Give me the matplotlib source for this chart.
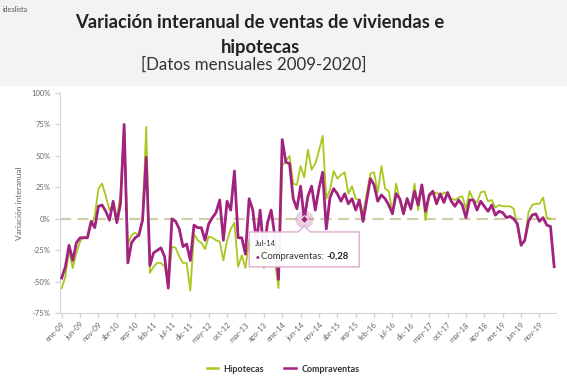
import numpy as np
import matplotlib.pyplot as plt
from matplotlib.patches import Rectangle, Polygon
from matplotlib.transforms import IdentityTransform
from matplotlib.lines import Line2D

plt.rcParams['font.family'] = ['Lato', 'DejaVu Sans']
plt.rcParams['lines.scale_dashes'] = False

# categorias: meses ene-09 .. mar-20
meses = ['ene', 'feb', 'mar', 'abr', 'may', 'jun', 'jul', 'ago', 'sep', 'oct', 'nov', 'dic']
months = [m + '-%02d' % y for y in range(9, 21) for m in meses][:135]

# variacion interanual en %
compraventas = [
    -47, -38, -21, -33, -19, -15, -15, -15, -2, -7, 10, 11, 6, -1, 14, -3, 12, 75, -35, -19,
    -15, -13, -1, 49, -37, -27, -25, -23, -30, -55, 0, -2, -8, -22, -20, -33, -5, -7, -7, -17,
    -4, 1, 5, 15, -17, 14, 7, 38, -15, -15, -28, 16, 7, -19, 7, -27, -3, 7, -14, -48,
    63, 45, 44, 16, 8, 26, -0.28, 18, 26, 7, 24, 37, -8, 17, 24, 20, 14, 20, 12, 16,
    7, 15, -2, 15, 32, 27, 14, 19, 16, 11, 4, 20, 16, 4, 16, 8, 22, 11, 27, 6,
    19, 22, 12, 20, 13, 21, 14, 10, 15, 11, 1, 15, 15, 7, 14, 10, 6, 11, 3, 6,
    5, 1, 2, 0, -4, -21, -17, -2, 3, 4, -2, 1, -5, -6, -38,
]
hipotecas = [
    -55, -46, -25, -39, -27, -18, -14, -15, -5, 2, 24, 28, 18, 7, 11, 0, 20, 70, -20, -13,
    -11, -13, -1, 73, -43, -38, -35, -35, -38, -52, -22, -23, -30, -35, -35, -57, -12, -17, -19, -24,
    -14, -15, -17, -18, -33, -17, -8, -3, -38, -29, -39, -17, -32, -37, -22, -39, -26, -21, -33, -55,
    42, 46, 50, 28, 27, 42, 33, 55, 39, 44, 54, 66, 16, 23, 38, 32, 35, 37, 20, 26,
    16, 15, 4, 20, 36, 37, 21, 42, 24, 22, 5, 28, 15, 7, 17, 7, 28, 7, 27, -1,
    18, 20, 21, 18, 21, 20, 16, 15, 17, 18, 8, 22, 15, 13, 21, 22, 14, 15, 9, 11,
    10, 10, 10, 8, -6, -21, -17, 5, 11, 12, 12, 17, 1, 0, np.nan,
]

tick_labels = ['ene-09', 'jun-09', 'nov-09', 'abr-10', 'sep-10', 'feb-11', 'jul-11', 'dic-11',
               'may-12', 'oct-12', 'mar-13', 'ago-13', 'ene-14', 'jun-14', 'nov-14', 'abr-15',
               'sep-15', 'feb-16', 'jul-16', 'dic-16', 'may-17', 'oct-17', 'mar-18', 'ago-18',
               'ene-19', 'jun-19', 'nov-19']
y_ticks = [-75, -50, -25, 0, 25, 50, 75, 100]
tooltip_month = 'jul-14'

verde = '#a9c81e'
morado = '#a2227f'
gris = '#666666'

W, H = 567, 385
fig = plt.figure(figsize=(W / 100, H / 100), dpi=100)
fx = lambda px: px / W
fy = lambda py: 1 - py / H

# cabecera
fig.add_artist(Rectangle((0, fy(85)), 1, 85 / H, transform=fig.transFigure,
                         color='#f3f3f1', zorder=0))
fig.text(fx(3), fy(12), 'idealista', fontsize=5, color='#555555')
fig.text(fx(260), fy(28), 'Variación interanual de ventas de viviendas e', ha='center',
         va='baseline', fontsize=13.2, fontweight='bold', color='#222222')
fig.text(fx(260), fy(53), 'hipotecas', ha='center', va='baseline', fontsize=13.2,
         fontweight='bold', color='#222222')
fig.text(fx(254), fy(70), '[Datos mensuales 2009-2020]', ha='center', va='baseline',
         fontsize=12.2, color='#333333')

ax = fig.add_axes([fx(60), fy(313.3), (556 - 60) / W, (313.3 - 93) / H])
x = np.arange(len(months))
ax.axhline(0, color='#cfcea8', lw=1.6, dashes=(8, 4.5), zorder=1)
ax.plot(x, hipotecas, color=verde, lw=1.3, zorder=2)
ax.plot(x, compraventas, color=morado, lw=2.0, zorder=3)

ax.set_xlim(-0.46, 134.5)
ax.set_ylim(-75, 100)
ax.set_yticks(y_ticks)
ax.set_yticklabels(['%d%%' % v for v in y_ticks])
ax.set_xticks([months.index(t) for t in tick_labels])
ax.set_xticklabels(tick_labels, rotation=45, ha='right', rotation_mode='anchor')
ax.tick_params(axis='both', labelsize=5.5, labelcolor=gris, color='#d6d6d6', length=3.5, width=1)
ax.tick_params(axis='x', pad=2)
for s in ['top', 'right']:
    ax.spines[s].set_visible(False)
for s in ['left', 'bottom']:
    ax.spines[s].set_color('#d6d6d6')
ax.set_ylabel('Variación interanual', fontsize=6, color=gris)
ax.yaxis.set_label_coords(-0.074, 0.5)

# tooltip
it = months.index(tooltip_month)
vt = compraventas[it]
ax.plot([it], [vt], 'o', ms=13, color=morado, alpha=0.22, mec='none', zorder=4)
ax.plot([it], [vt], 'D', ms=4.5, color=morado, mec='white', mew=0.6, zorder=5)

xt, yt = ax.transData.transform((it, vt))
L, R, T, B = xt - 55, xt + 55, yt - 12.7, yt - 47.7
shape = Polygon([(L, B), (R, B), (R, T), (xt + 6, T), (xt, T + 6), (xt - 6, T), (L, T)],
                closed=True, transform=IdentityTransform(), facecolor='white',
                edgecolor='#dba6cf', lw=1, joinstyle='round', zorder=6, alpha=0.95)
fig.add_artist(shape)
fig.text(fx(L + 6), (yt - 24) / H, tooltip_month.capitalize(), fontsize=5.5, color='#333333',
         va='center', zorder=7)
fig.text(fx(L + 6), (yt - 37) / H, '●', fontsize=4.5, color=morado, va='center', zorder=7)
t1 = fig.text(fx(L + 12), (yt - 37) / H, 'Compraventas: ', fontsize=6.8, color='#333333',
              va='center', zorder=7)
r = fig.canvas.get_renderer()
bb = t1.get_window_extent(r)
fig.text(bb.x1 / W, (yt - 37) / H, ('%.2f' % vt).replace('.', ','), fontsize=6.8,
         fontweight='bold', color='#222222', va='center', zorder=7)

handles = [Line2D([], [], color=verde, lw=1.8), Line2D([], [], color=morado, lw=1.8)]
fig.legend(handles, ['Hipotecas', 'Compraventas'], loc='center', bbox_to_anchor=(fx(283), fy(369)),
           ncol=2, frameon=False, prop={'weight': 'bold', 'size': 6.5}, labelcolor='#333333',
           handlelength=1.3, handletextpad=0.6, columnspacing=2.2)

fig.savefig('out.png', dpi=100)
